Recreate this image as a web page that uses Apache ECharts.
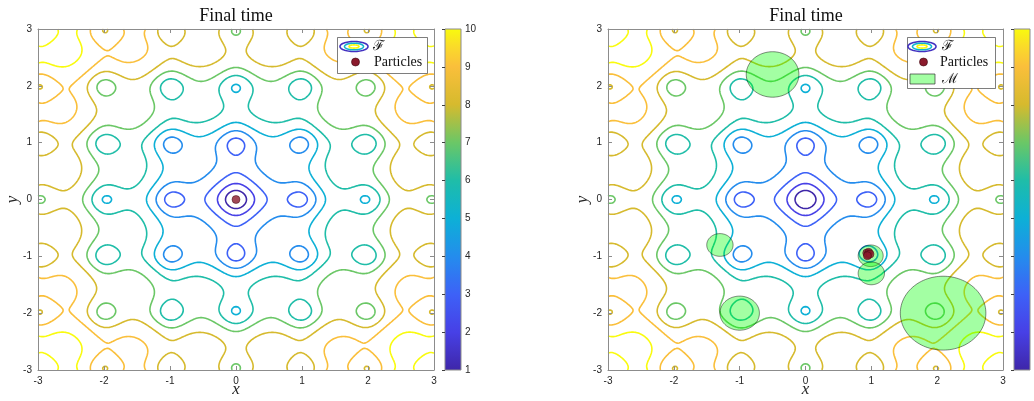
<!DOCTYPE html>
<html><head><meta charset="utf-8">
<script src="https://cdn.jsdelivr.net/npm/echarts@6/dist/echarts.min.js"></script>
<style>html,body{margin:0;padding:0;background:#fff}#c{width:1034px;height:401px}</style>
</head><body><div id="c"></div>
<script>
// ---------------- data ----------------
const xTicks = [-3, -2, -1, 0, 1, 2, 3];
const yTicks = [-3, -2, -1, 0, 1, 2, 3];
const contourLevels = [1, 2, 3, 4, 5, 6, 7, 8, 9, 10];
const colorbarTicks = [1, 2, 3, 4, 5, 6, 7, 8, 9, 10];
// objective F: Ackley function parameters
const ackleyA = 20, ackleyB = 0.2, ackleyC = 2 * Math.PI;
const domainMin = -3, domainMax = 3;
const particlesLeft = [[0, 0]];
const particlesRight = [[0.93, -0.94], [0.96, -0.93], [0.95, -0.97], [0.98, -0.96], [0.94, -0.99]];
const regionCenters = [[-0.5, 2.2], [-1.3, -0.8], [-1.0, -2.0], [0.99, -0.99], [1.0, -1.3], [2.09, -2.0]];
const regionRadii = [0.40, 0.20, 0.30, 0.19, 0.20, 0.65];
const titleText = 'Final time';
const legendLabels = ['\u2131', 'Particles', '\u2133'];

// ---------------- colormap (parula) ----------------
const parula = [
  [0.000, [0.2422, 0.1504, 0.6603]],
  [0.111, [0.2800, 0.2500, 0.9000]],
  [0.222, [0.2400, 0.3800, 0.9700]],
  [0.333, [0.1400, 0.5500, 0.9300]],
  [0.444, [0.0500, 0.6900, 0.8400]],
  [0.556, [0.1200, 0.7400, 0.6600]],
  [0.667, [0.4200, 0.7800, 0.4000]],
  [0.778, [0.8400, 0.7300, 0.1800]],
  [0.889, [0.9800, 0.7500, 0.2300]],
  [0.944, [0.9800, 0.8500, 0.1700]],
  [1.000, [0.9763, 0.9831, 0.0538]]
];
function parulaColor(t) {
  t = Math.max(0, Math.min(1, t));
  for (let k = 0; k < parula.length - 1; k++) {
    const [t0, c0] = parula[k], [t1, c1] = parula[k + 1];
    if (t <= t1) {
      const u = (t - t0) / (t1 - t0);
      const c = c0.map((v, i) => Math.round(255 * (v + u * (c1[i] - v))));
      return 'rgb(' + c.join(',') + ')';
    }
  }
  const c = parula[parula.length - 1][1].map(v => Math.round(255 * v));
  return 'rgb(' + c.join(',') + ')';
}
const cMin = colorbarTicks[0], cMax = colorbarTicks[colorbarTicks.length - 1];
const levelColor = L => parulaColor((L - cMin) / (cMax - cMin));

// ---------------- contour computation (marching squares) ----------------
function ackley(x, y) {
  return -ackleyA * Math.exp(-ackleyB * Math.sqrt(0.5 * (x * x + y * y)))
    - Math.exp(0.5 * (Math.cos(ackleyC * x) + Math.cos(ackleyC * y))) + ackleyA + Math.E;
}
const N = 301;
const gx = [], gy = [];
for (let i = 0; i < N; i++) { gx.push(domainMin + (domainMax - domainMin) * i / (N - 1)); gy.push(gx[i]); }
const F = [];
for (let j = 0; j < N; j++) { const row = new Float64Array(N); for (let i = 0; i < N; i++) row[i] = ackley(gx[i], gy[j]); F.push(row); }

function contourLines(L) {
  const pts = new Map(); const segs = [];
  const hk = (i, j) => (j * N + i) * 2, vk = (i, j) => (j * N + i) * 2 + 1;
  for (let j = 0; j < N - 1; j++) {
    for (let i = 0; i < N - 1; i++) {
      const a = F[j][i], b = F[j][i + 1], c = F[j + 1][i + 1], d = F[j + 1][i];
      const A = a > L, B = b > L, C = c > L, D = d > L;
      if (A === B && B === C && C === D) continue;
      const e = [null, null, null, null];
      if (A !== B) { const k = hk(i, j); if (!pts.has(k)) { const t = (L - a) / (b - a); pts.set(k, [gx[i] + t * (gx[i + 1] - gx[i]), gy[j]]); } e[0] = k; }
      if (B !== C) { const k = vk(i + 1, j); if (!pts.has(k)) { const t = (L - b) / (c - b); pts.set(k, [gx[i + 1], gy[j] + t * (gy[j + 1] - gy[j])]); } e[1] = k; }
      if (D !== C) { const k = hk(i, j + 1); if (!pts.has(k)) { const t = (L - d) / (c - d); pts.set(k, [gx[i] + t * (gx[i + 1] - gx[i]), gy[j + 1]]); } e[2] = k; }
      if (A !== D) { const k = vk(i, j); if (!pts.has(k)) { const t = (L - a) / (d - a); pts.set(k, [gx[i], gy[j] + t * (gy[j + 1] - gy[j])]); } e[3] = k; }
      const act = e.filter(v => v !== null);
      if (act.length === 2) segs.push(act);
      else if (act.length === 4) {
        const center = (a + b + c + d) / 4 > L;
        if (center === A) { segs.push([e[0], e[1]]); segs.push([e[2], e[3]]); }
        else { segs.push([e[0], e[3]]); segs.push([e[1], e[2]]); }
      }
    }
  }
  const adj = new Map();
  segs.forEach((s, k) => { for (const q of s) { if (!adj.has(q)) adj.set(q, []); adj.get(q).push(k); } });
  const used = new Uint8Array(segs.length);
  const lines = [];
  function walk(start) {
    const out = []; let cur = start;
    while (true) {
      const l = adj.get(cur); let nx = -1;
      for (const m of l) if (!used[m]) { nx = m; break; }
      if (nx < 0) break;
      used[nx] = 1; const s = segs[nx]; const o = s[0] === cur ? s[1] : s[0];
      out.push(o); cur = o;
    }
    return out;
  }
  for (let k = 0; k < segs.length; k++) {
    if (used[k]) continue; used[k] = 1;
    const fwd = walk(segs[k][1]);
    const back = walk(segs[k][0]);
    const chain = back.reverse().concat([segs[k][0], segs[k][1]], fwd);
    lines.push(chain.map(q => pts.get(q)));
  }
  return lines;
}
const contourData = contourLevels.map(L => ({ level: L, lines: contourLines(L) }));

// ---------------- option ----------------
const axisGray = '#8c8c8c';
const txt = '#262626';
const serif = "'Liberation Serif','DejaVu Serif',serif";
const sans = "'Liberation Sans',Arial,sans-serif";

const plotGrids = [
  { left: 38, top: 29, width: 396, height: 341 },
  { left: 608, top: 29, width: 395, height: 341 }
];
const cbGrids = [
  { left: 445, top: 29, width: 16, height: 341 },
  { left: 1014, top: 29, width: 16, height: 341 }
];

const xAxes = [], yAxes = [];
plotGrids.forEach((g, p) => {
  const common = {
    type: 'value', min: xTicks[0], max: xTicks[xTicks.length - 1], interval: 1, gridIndex: p,
    splitLine: { show: false },
    axisLine: { show: true, onZero: false, lineStyle: { color: axisGray, width: 1 } },
    axisTick: { show: true, inside: true, length: 4, lineStyle: { color: axisGray, width: 1 } },
    z: 5
  };
  xAxes.push(Object.assign({}, common, {
    position: 'bottom', name: 'x', nameLocation: 'middle', nameGap: 11, nameMoveOverlap: false,
    nameTextStyle: { fontFamily: serif, fontStyle: 'italic', fontSize: 17, color: txt },
    axisLabel: { color: txt, fontSize: 10, fontFamily: sans, margin: 6 }
  }));
  xAxes.push(Object.assign({}, common, { position: 'top', axisLabel: { show: false } }));
  const ycommon = Object.assign({}, common, { min: yTicks[0], max: yTicks[yTicks.length - 1] });
  yAxes.push(Object.assign({}, ycommon, {
    position: 'left', name: 'y', nameLocation: 'middle', nameGap: 17, nameRotate: 90, nameMoveOverlap: false,
    nameTextStyle: { fontFamily: serif, fontStyle: 'italic', fontSize: 17, color: txt },
    axisLabel: { color: txt, fontSize: 10, fontFamily: sans, margin: 6 }
  }));
  yAxes.push(Object.assign({}, ycommon, { position: 'right', axisLabel: { show: false } }));
});
cbGrids.forEach((g, p) => {
  xAxes.push({ type: 'value', gridIndex: 2 + p, min: 0, max: 1, show: false });
  yAxes.push({
    type: 'value', gridIndex: 2 + p, min: cMin, max: cMax, interval: 1, position: 'right', z: 10,
    splitLine: { show: false }, axisLine: { show: false },
    axisTick: { show: true, inside: true, length: 3, lineStyle: { color: '#404040', width: 1 } },
    axisLabel: { show: p === 0, color: txt, fontSize: 10, fontFamily: sans, margin: 4 }
  });
});

const series = [];
[0, 1].forEach(p => {
  contourData.forEach(cd => {
    series.push({
      type: 'lines', coordinateSystem: 'cartesian2d', xAxisIndex: 2 * p, yAxisIndex: 2 * p,
      polyline: true, silent: true, z: 2,
      lineStyle: { color: levelColor(cd.level), width: 1.6, opacity: 1 },
      data: cd.lines.map(l => ({ coords: l }))
    });
  });
});
// region M (circles in data coordinates)
series.push({
  type: 'custom', xAxisIndex: 2, yAxisIndex: 2, z: 3, silent: true,
  data: regionCenters.map((c, i) => [c[0], c[1], regionRadii[i]]),
  encode: { x: 0, y: 1 },
  renderItem: (params, api) => {
    const cx = api.value(0), cy = api.value(1), r = api.value(2);
    const pts = [];
    for (let k = 0; k < 120; k++) {
      const th = 2 * Math.PI * k / 120;
      pts.push(api.coord([cx + r * Math.cos(th), cy + r * Math.sin(th)]));
    }
    return { type: 'polygon', shape: { points: pts }, style: { fill: 'rgba(0,255,0,0.36)', stroke: 'rgba(0,0,0,0.65)', lineWidth: 0.7 } };
  }
});
const particleStyle = { color: '#8b1a2c', borderColor: '#3a0810', borderWidth: 0.6 };
series.push({ type: 'scatter', xAxisIndex: 0, yAxisIndex: 0, z: 4, symbolSize: 8, itemStyle: particleStyle, data: particlesLeft, silent: true });
series.push({ type: 'scatter', xAxisIndex: 2, yAxisIndex: 2, z: 4, symbolSize: 8, itemStyle: particleStyle, data: particlesRight, silent: true });
// colorbars
const cbStops = [];
for (let k = 0; k <= 45; k++) cbStops.push({ offset: k / 45, color: parulaColor(k / 45) });
[0, 1].forEach(p => {
  series.push({
    type: 'custom', xAxisIndex: 4 + p, yAxisIndex: 4 + p, z: 1, silent: true, data: [[0.5, (cMin + cMax) / 2]],
    renderItem: (params, api) => {
      const cs = params.coordSys;
      return { type: 'rect', shape: { x: cs.x, y: cs.y, width: cs.width, height: cs.height },
        style: { fill: new echarts.graphic.LinearGradient(0, 1, 0, 0, cbStops), stroke: axisGray, lineWidth: 1 } };
    }
  });
});

// legends & titles
function ellipsePts(cx, cy, rx, ry) {
  const pts = [];
  for (let k = 0; k < 60; k++) { const t = 2 * Math.PI * k / 60; pts.push([cx + rx * Math.cos(t), cy + ry * Math.sin(t)]); }
  return pts;
}
function fIcon(cx, cy) {
  return [
    { type: 'polygon', shape: { points: ellipsePts(cx, cy, 14, 5) }, style: { fill: null, stroke: levelColor(1.4), lineWidth: 1.6 } },
    { type: 'polygon', shape: { points: ellipsePts(cx, cy, 9.5, 3.3) }, style: { fill: null, stroke: levelColor(5.2), lineWidth: 1.6 } },
    { type: 'polygon', shape: { points: ellipsePts(cx, cy, 5, 1.6) }, style: { fill: null, stroke: levelColor(10), lineWidth: 1.6 } }
  ];
}
const lgFont = { fontFamily: serif, fontSize: 14, fill: '#111' };
const graphic = [
  { type: 'text', x: 236, y: 16, style: { text: titleText, fontFamily: serif, fontSize: 18, fill: '#111', align: 'center', verticalAlign: 'middle' } },
  { type: 'text', x: 806, y: 16, style: { text: titleText, fontFamily: serif, fontSize: 18, fill: '#111', align: 'center', verticalAlign: 'middle' } },
  // left legend
  { type: 'rect', shape: { x: 337.5, y: 37.5, width: 90, height: 36 }, style: { fill: '#fff', stroke: '#262626', lineWidth: 0.6 }, z: 20 },
  ...fIcon(354, 46.5).map(o => Object.assign(o, { z: 21 })),
  { type: 'text', x: 373, y: 46.5, z: 21, style: Object.assign({ text: legendLabels[0], verticalAlign: 'middle' }, lgFont) },
  { type: 'circle', shape: { cx: 355.5, cy: 62, r: 4 }, style: { fill: particleStyle.color, stroke: particleStyle.borderColor, lineWidth: 0.6 }, z: 21 },
  { type: 'text', x: 374, y: 62, z: 21, style: Object.assign({ text: legendLabels[1], verticalAlign: 'middle' }, lgFont) },
  // right legend
  { type: 'rect', shape: { x: 907.5, y: 37.5, width: 88, height: 51 }, style: { fill: '#fff', stroke: '#262626', lineWidth: 0.6 }, z: 20 },
  ...fIcon(922, 46.5).map(o => Object.assign(o, { z: 21 })),
  { type: 'text', x: 942, y: 46.5, z: 21, style: Object.assign({ text: legendLabels[0], verticalAlign: 'middle' }, lgFont) },
  { type: 'circle', shape: { cx: 923.5, cy: 62, r: 4 }, style: { fill: particleStyle.color, stroke: particleStyle.borderColor, lineWidth: 0.6 }, z: 21 },
  { type: 'text', x: 940, y: 62, z: 21, style: Object.assign({ text: legendLabels[1], verticalAlign: 'middle' }, lgFont) },
  { type: 'rect', shape: { x: 910, y: 74, width: 25, height: 10 }, style: { fill: 'rgb(163,255,163)', stroke: '#333', lineWidth: 0.7 }, z: 21 },
  { type: 'text', x: 942, y: 79, z: 21, style: Object.assign({ text: legendLabels[2], verticalAlign: 'middle' }, lgFont) }
];

const chart = echarts.init(document.getElementById('c'), null, { renderer: 'canvas' });
chart.setOption({
  animation: false,
  backgroundColor: '#fff',
  grid: plotGrids.concat(cbGrids).map(g => Object.assign({ containLabel: false, outerBoundsMode: 'none' }, g)),
  xAxis: xAxes, yAxis: yAxes, series: series, graphic: graphic
});
</script>
</body></html>
